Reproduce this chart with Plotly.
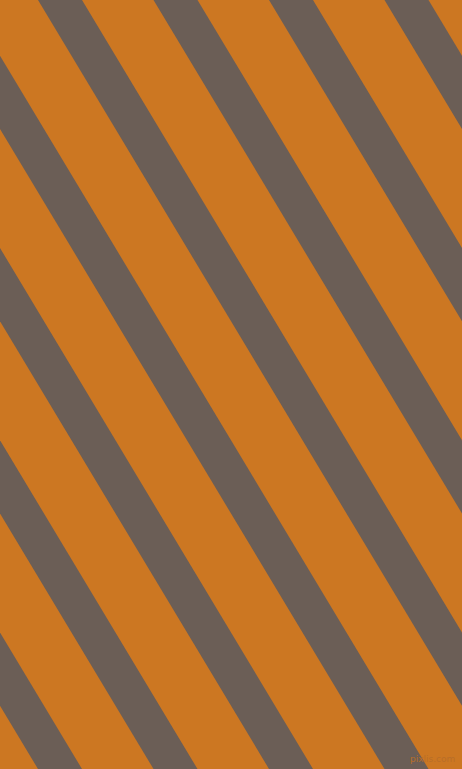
import plotly.graph_objects as go

# diagonal stripe pattern: top-edge x of each gray band, its width and the run over the full height
stripe_starts = [-424, -308.5, -193, -77.5, 38, 153.5, 269, 384.5]
stripe_width = 44
run_x = 462
height = 769

orange = "#CC7722"
gray = "#6B5E56"

fig = go.Figure()
for x0 in stripe_starts:
    fig.add_trace(go.Scatter(
        x=[x0, x0 + stripe_width, x0 + stripe_width + run_x, x0 + run_x, x0],
        y=[0, 0, height, height, 0],
        mode="lines", fill="toself", fillcolor=gray,
        line=dict(width=0, color=gray), hoverinfo="skip", showlegend=False))

fig.add_annotation(x=457, y=759, text="pixlis.com", showarrow=False,
                   xanchor="right", yanchor="middle",
                   font=dict(family="DejaVu Sans", size=9, color="#B86E28"))

fig.update_xaxes(range=[0, 462], visible=False, fixedrange=True)
fig.update_yaxes(range=[height, 0], visible=False, fixedrange=True)
fig.update_layout(width=462, height=769, margin={"r": 0, "t": 0, "l": 0, "b": 0},
                  plot_bgcolor=orange, paper_bgcolor=orange)
fig.write_html("out.html", config={"displayModeBar": False},
               post_script="document.body.style.margin='0';document.body.style.overflow='hidden';")
